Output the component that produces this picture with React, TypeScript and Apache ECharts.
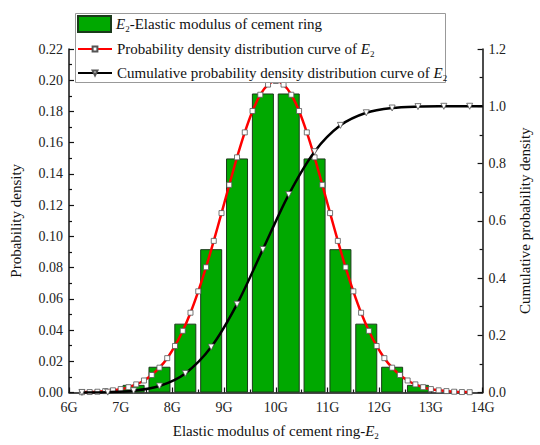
import React, { useEffect, useRef } from "react";
import * as echarts from "echarts";

const xTickLabels = ["6G", "7G", "8G", "9G", "10G", "11G", "12G", "13G", "14G"];

const barX = [7.25, 7.75, 8.25, 8.75, 9.25, 9.75, 10.25, 10.75, 11.25, 11.75, 12.25, 12.75];
const barY = [0.0049, 0.0165, 0.0441, 0.0918, 0.1499, 0.1915, 0.1915, 0.1499, 0.0918, 0.0441, 0.0165, 0.0049];

const pdfX = [
  6.25, 6.4, 6.55, 6.7, 6.85, 7.0, 7.15, 7.3, 7.45, 7.6, 7.75, 7.9, 8.05, 8.2, 8.35, 8.5, 8.65,
  8.8, 8.95, 9.1, 9.25, 9.4, 9.55, 9.7, 9.85, 10.0, 10.15, 10.3, 10.45, 10.6, 10.75, 10.9, 11.05,
  11.2, 11.35, 11.5, 11.65, 11.8, 11.95, 12.1, 12.25, 12.4, 12.55, 12.7, 12.85, 13.0, 13.15, 13.3,
  13.45, 13.6, 13.75,
];
const pdfY = [
  0.0002, 0.0003, 0.0005, 0.0009, 0.0014, 0.0022, 0.0034, 0.0052, 0.0077, 0.0112, 0.0159, 0.022,
  0.0298, 0.0395, 0.0511, 0.0648, 0.0802, 0.0971, 0.1149, 0.133, 0.1506, 0.1666, 0.1803, 0.1907,
  0.1972, 0.1995, 0.1972, 0.1907, 0.1803, 0.1666, 0.1506, 0.133, 0.1149, 0.0971, 0.0802, 0.0648,
  0.0511, 0.0395, 0.0298, 0.022, 0.0159, 0.0112, 0.0077, 0.0052, 0.0034, 0.0022, 0.0014, 0.0009,
  0.0005, 0.0003, 0.0002,
];

const cdfX = [6.25, 6.75, 7.25, 7.75, 8.25, 8.75, 9.25, 9.75, 10.25, 10.75, 11.25, 11.75, 12.25, 12.75, 13.25, 13.75];
const cdfY = [0.0002, 0.0013, 0.0062, 0.0228, 0.0668, 0.1587, 0.3085, 0.5, 0.6915, 0.8413, 0.9332, 0.9772, 0.9938, 0.9987, 0.9998, 1.0];
const cdfEnd = [14, 1.0];

const seriesNames = [
  "E2-Elastic modulus of cement ring",
  "Probability density distribution curve of E2",
  "Cumulative probability density distribution curve of E2",
];

const FONT = "'Liberation Serif', 'Times New Roman', Times, serif";

export default function App() {
  const ref = useRef<HTMLDivElement>(null);
  useEffect(() => {
    if (!ref.current) return;
    const chart = echarts.init(ref.current, null, { renderer: "svg" });
    const richSub = {
      n: { fontFamily: FONT, fontSize: 15, color: "#111", lineHeight: 17 },
      i: { fontFamily: FONT, fontSize: 15, fontStyle: "italic", color: "#111", lineHeight: 17 },
      s: { fontFamily: FONT, fontSize: 9, color: "#111", padding: [9, 0, 0, 0], lineHeight: 17 },
    };
    const legendFmt = (name: string) => {
      if (name === seriesNames[0]) return "{i|E}{s|2}{n|-Elastic modulus of cement ring}";
      if (name === seriesNames[1]) return "{n|Probability density distribution curve of }{i|E}{s|2}";
      return "{n|Cumulative probability density distribution curve of }{i|E}{s|2}";
    };
    const axisLine = { show: true, lineStyle: { color: "#111", width: 1.5 } };
    const tickStyle = { color: "#111", width: 1.2 };
    const labelStyle = { fontFamily: FONT, fontSize: 14, color: "#222" };
    const legendText = { fontFamily: FONT, fontSize: 15, color: "#111", rich: richSub };
    chart.setOption({
      animation: false,
      backgroundColor: "#fff",
      grid: { left: 63, right: 46, top: 49, bottom: 48, containLabel: false },
      graphic: [
        {
          type: "rect",
          left: 75,
          top: 13,
          shape: { width: 370, height: 69 },
          style: { fill: "#fff", stroke: "#999", lineWidth: 1 },
          z: 10,
        },
      ],
      legend: [
        {
          show: true,
          orient: "vertical",
          left: 77,
          top: 15,
          itemWidth: 33,
          itemHeight: 16,
          padding: 0,
          data: [{ name: seriesNames[0], icon: "rect" }],
          formatter: legendFmt,
          textStyle: legendText,
          z: 20,
        },
        {
          show: true,
          orient: "vertical",
          left: 77,
          top: 40,
          itemWidth: 34,
          itemHeight: 6,
          itemGap: 6,
          padding: 0,
          data: [{ name: seriesNames[1] }, { name: seriesNames[2] }],
          formatter: legendFmt,
          textStyle: legendText,
          z: 20,
        },
      ],
      xAxis: {
        type: "value",
        min: 6,
        max: 14,
        interval: 1,
        name: "{n|Elastic modulus of cement ring-}{i|E}{s|2}",
        nameLocation: "middle",
        nameGap: 30,
        nameTextStyle: { fontFamily: FONT, rich: richSub },
        axisLine,
        axisTick: { show: true, inside: true, length: 5, lineStyle: tickStyle },
        minorTick: { show: true, splitNumber: 2, length: 3, lineStyle: tickStyle },
        splitLine: { show: false },
        axisLabel: { ...labelStyle, margin: 8, formatter: (v: number) => xTickLabels[Math.round(v - 6)] },
      },
      yAxis: [
        {
          type: "value",
          min: 0,
          max: 0.22,
          interval: 0.02,
          name: "Probability density",
          nameLocation: "middle",
          nameGap: 46,
          nameTextStyle: { fontFamily: FONT, fontSize: 15, color: "#111" },
          axisLine,
          axisTick: { show: true, inside: true, length: 5, lineStyle: tickStyle },
          minorTick: { show: true, splitNumber: 2, length: 3, lineStyle: tickStyle },
          splitLine: { show: false },
          axisLabel: { ...labelStyle, margin: 6, formatter: (v: number) => v.toFixed(2) },
        },
        {
          type: "value",
          min: 0,
          max: 1.2,
          interval: 0.2,
          position: "right",
          name: "Cumulative probability density",
          nameLocation: "middle",
          nameGap: 33,
          nameRotate: 90,
          nameTextStyle: { fontFamily: FONT, fontSize: 15, color: "#111" },
          axisLine,
          axisTick: { show: true, inside: true, length: 5, lineStyle: tickStyle },
          minorTick: { show: true, splitNumber: 2, length: 3, lineStyle: tickStyle },
          splitLine: { show: false },
          axisLabel: { ...labelStyle, margin: 6, formatter: (v: number) => v.toFixed(1) },
        },
      ],
      series: [
        {
          name: seriesNames[0],
          type: "bar",
          yAxisIndex: 0,
          barWidth: 22,
          data: barX.map((x, i) => [x, barY[i]]),
          itemStyle: { color: "#00a800", borderColor: "#1a3a1a", borderWidth: 1 },
          z: 1,
        },
        {
          name: seriesNames[1],
          type: "line",
          yAxisIndex: 0,
          smooth: 0.3,
          data: pdfX.map((x, i) => [x, pdfY[i]]),
          lineStyle: { color: "#ff0000", width: 2.5 },
          itemStyle: { color: "#fff", borderColor: "#555", borderWidth: 0.8 },
          symbol: "rect",
          symbolSize: 5,
          showSymbol: true,
          z: 3,
        },
        {
          name: seriesNames[2],
          type: "line",
          yAxisIndex: 1,
          smooth: 0.3,
          data: [
            ...cdfX.map((x, i) => [x, cdfY[i]]),
            { value: cdfEnd, symbol: "none" },
          ],
          lineStyle: { color: "#000", width: 2.5 },
          itemStyle: { color: "#fff", borderColor: "#555", borderWidth: 0.8 },
          symbol: "triangle",
          symbolRotate: 180,
          symbolSize: 6,
          showSymbol: true,
          z: 4,
        },
      ],
    });
    return () => chart.dispose();
  }, []);
  return (
    <div
      ref={ref}
      style={{ position: "fixed", left: 0, top: 0, width: 540, height: 445 }}
    />
  );
}
